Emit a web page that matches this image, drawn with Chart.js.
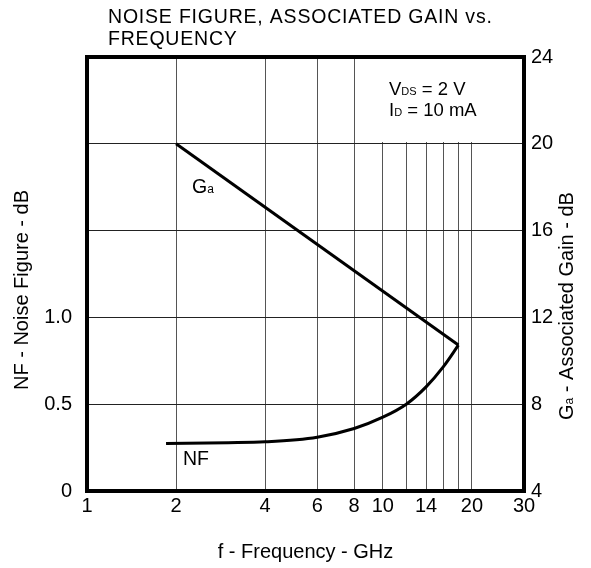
<!DOCTYPE html>
<html>
<head>
<meta charset="utf-8">
<script src="https://cdn.jsdelivr.net/npm/chart.js@4.4.1/dist/chart.umd.min.js"></script>
<style>
  html, body { margin: 0; padding: 0; background: #fff; }
  #wrap { width: 591px; height: 568px; }
</style>
</head>
<body>
<div id="wrap"><canvas id="nf-chart" width="591" height="568"></canvas></div>
<script>
// ── Data ─────────────────────────────────────────────────────
const freqTicks    = [1, 2, 4, 6, 8, 10, 12, 14, 16, 18, 20, 30];
const freqLabels   = ['1', '2', '4', '6', '8', '10', '', '14', '', '', '20', '30'];
const nfTicks      = [0, 0.5, 1, 1.5, 2, 2.5];
const nfTickLabels = ['0', '0.5', '1.0', '', '', ''];
const gaTicks      = [4, 8, 12, 16, 20, 24];

const nfFreq   = [1.85, 3, 4, 6, 8, 10, 12, 14, 16, 18];
const nfValues = [0.274, 0.278, 0.283, 0.31, 0.36, 0.425, 0.50, 0.60, 0.715, 0.84];
const gaFreq   = [2, 18];
const gaValues = [20, 10.73];

const FONT = '"Liberation Sans", Arial, Helvetica, sans-serif';
Chart.defaults.font.family = FONT;
Chart.defaults.color = '#000';

const toPoints = (xs, ys) => xs.map((x, i) => ({ x, y: ys[i] }));

// text with a subscript, drawn left to right from (x, y) baseline
function drawSub(ctx, x, y, parts, size) {
  parts.forEach(([txt, sub]) => {
    ctx.font = (sub ? Math.round(size * 0.62) : size) + 'px ' + FONT;
    ctx.fillText(txt, x, y);
    x += ctx.measureText(txt).width;
  });
}
function widthSub(ctx, parts, size) {
  return parts.reduce((w, [txt, sub]) => {
    ctx.font = (sub ? Math.round(size * 0.62) : size) + 'px ' + FONT;
    return w + ctx.measureText(txt).width;
  }, 0);
}

// mask grid behind the bias box, then annotations + frame
const decor = {
  id: 'decor',
  beforeDatasetsDraw(chart) {
    const { ctx, chartArea: a, scales } = chart;
    const x0 = Math.round(scales.x.getPixelForValue(9));
    const y1 = Math.floor(scales.y2.getPixelForValue(20)) - 1;
    ctx.save();
    ctx.fillStyle = '#fff';
    ctx.fillRect(x0, a.top + 1, a.right - 1 - x0, y1 - a.top - 1);
    ctx.restore();
  },
  afterDatasetsDraw(chart) {
    const { ctx, chartArea: a } = chart;
    ctx.save();
    ctx.fillStyle = '#000';
    ctx.textBaseline = 'alphabetic';
    ctx.textAlign = 'left';

    // title
    ctx.font = '19.5px ' + FONT;
    ctx.letterSpacing = '0.8px';
    ctx.fillText('NOISE FIGURE, ASSOCIATED GAIN vs.', 108, 23);
    ctx.fillText('FREQUENCY', 108, 45);
    ctx.letterSpacing = '0px';

    // bias conditions
    drawSub(ctx, 389, 95, [['V'], ['DS', 1], [' = 2 V']], 18.5);
    drawSub(ctx, 389, 116, [['I'], ['D', 1], [' = 10 mA']], 18.5);

    // curve labels
    drawSub(ctx, 192, 193, [['G'], ['a', 1]], 19.5);
    ctx.font = '19.5px ' + FONT;
    ctx.fillText('NF', 183, 465);

    // axis titles (rotated)
    ctx.save();
    ctx.translate(28, 290);
    ctx.rotate(-Math.PI / 2);
    ctx.textAlign = 'center';
    ctx.font = '20px ' + FONT;
    ctx.fillText('NF - Noise Figure - dB', 0, 0);
    ctx.restore();

    ctx.save();
    ctx.translate(573, 306);
    ctx.rotate(-Math.PI / 2);
    const gParts = [['G'], ['a', 1], [' - Associated Gain - dB']];
    drawSub(ctx, -widthSub(ctx, gParts, 20) / 2, 0, gParts, 20);
    ctx.restore();

    // heavy frame
    ctx.lineWidth = 4;
    ctx.strokeStyle = '#000';
    ctx.strokeRect(a.left, a.top, a.right - a.left, a.bottom - a.top);
    ctx.restore();
  }
};

new Chart(document.getElementById('nf-chart'), {
  type: 'line',
  data: {
    datasets: [
      {
        label: 'NF',
        data: toPoints(nfFreq, nfValues),
        yAxisID: 'y',
        borderColor: '#000',
        borderWidth: 3,
        pointRadius: 0,
        cubicInterpolationMode: 'monotone',
      },
      {
        label: 'Ga',
        data: toPoints(gaFreq, gaValues),
        yAxisID: 'y2',
        borderColor: '#000',
        borderWidth: 3,
        pointRadius: 0,
        tension: 0,
      }
    ]
  },
  options: {
    responsive: false,
    animation: false,
    layout: { padding: { top: 57, left: 0, right: 0, bottom: 0 } },
    plugins: { legend: { display: false }, tooltip: { enabled: false } },
    scales: {
      x: {
        type: 'logarithmic',
        min: 1, max: 30,
        afterBuildTicks: s => { s.ticks = freqTicks.map(v => ({ value: v })); },
        afterFit: s => { s.height = 77; },
        grid: { color: '#555', lineWidth: 1, drawTicks: false },
        border: { display: false },
        ticks: {
          autoSkip: false, maxRotation: 0, padding: 3,
          font: { size: 20 },
          callback: (v, i) => freqLabels[i]
        },
        title: {
          display: true, text: 'f - Frequency - GHz',
          font: { size: 20 }, padding: { top: 25 }
        }
      },
      y: {
        position: 'left',
        min: 0, max: 2.5,
        afterBuildTicks: s => { s.ticks = nfTicks.map(v => ({ value: v })); },
        afterFit: s => { s.width = 87; },
        grid: { color: '#222', lineWidth: 1, drawTicks: false },
        border: { display: false },
        ticks: { padding: 15, font: { size: 20 }, callback: (v, i) => nfTickLabels[i] }
      },
      y2: {
        position: 'right',
        min: 4, max: 24,
        afterBuildTicks: s => { s.ticks = gaTicks.map(v => ({ value: v })); },
        afterFit: s => { s.width = 67; },
        grid: { display: false, drawTicks: false },
        border: { display: false },
        ticks: { padding: 7, font: { size: 20 }, callback: v => String(v) }
      }
    }
  },
  plugins: [decor]
});
</script>
</body>
</html>
